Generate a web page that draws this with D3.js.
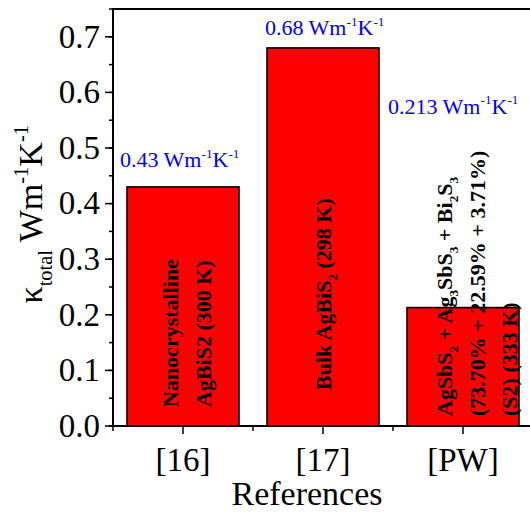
<!DOCTYPE html>
<html>
<head>
<meta charset="utf-8">
<script src="https://cdn.jsdelivr.net/npm/d3@7"></script>
<style>
  html, body { margin: 0; padding: 0; background: #fff; }
  svg { display: block; }
  text, tspan { font-family: "Liberation Serif", "Times New Roman", serif; white-space: pre; }
</style>
</head>
<body>
<div id="chart"></div>
<script>
// ---- data ----
const categories = ['[16]', '[17]', '[PW]'];
const kappaValues = [0.43, 0.68, 0.213];
const valueLabels = ['0.43', '0.68', '0.213'];
const yTicks = [0, 0.1, 0.2, 0.3, 0.4, 0.5, 0.6, 0.7];
const yMinorTicks = d3.range(0, 0.751, 0.05);

// rich-text segments: [text, 'sub' | 'sup' | undefined]
const barDescriptions = [
    [[['Nanocrystalline']], [['AgBiS2 (300 K)']]],
    [[['Bulk AgBiS'], ['2', 'sub'], [' (298 K)']]],
    [
        [['AgSbS'], ['2', 'sub'], [' + Ag'], ['3', 'sub'], ['SbS'], ['3', 'sub'], [' + Bi'], ['2', 'sub'], ['S'], ['3', 'sub']],
        [['(73.70% + 22.59% + 3.71%)']],
        [['(S2) (333 K)']]
    ]
];
const unitSegments = [[' Wm'], ['-1', 'sup'], ['K'], ['-1', 'sup']];

// ---- layout (pixels, not data) ----
const width = 530, height = 512;
const margin = {left: 113, top: 9, right: -3, bottom: 86};
// where each blue value label sits relative to its bar's top-left corner
const valueLabelOffset = [[-7, -20], [-2, -13], [-19, -194]];
// rotated in-bar text: distance of the text start above the baseline, and baselines relative to bar centre
const descStart = [19, 36, 10];
const descBaselines = [[-5, 28], [8], [-11, 22, 54]];

/**
 * Appends tspans for a list of segments, shifting sub/superscripts.
 */
function appendRich(textSel, segments, size) {
    let shift = 0;
    segments.forEach(([str, kind]) => {
        const next = kind === 'sub' ? size * 0.28 : kind === 'sup' ? -size * 0.42 : 0;
        textSel.append('tspan')
            .attr('font-size', kind ? size * 0.6 : size)
            .attr('dy', next - shift)
            .text(str);
        shift = next;
    });
}

const svg = d3.select('#chart').append('svg')
    .attr('width', width)
    .attr('height', height)
    .attr('font-family', '"Liberation Serif", "Times New Roman", serif');

const x = d3.scaleBand()
    .domain(categories)
    .range([margin.left, width - margin.right])
    .paddingInner(0.2)
    .paddingOuter(0.1);

const y = d3.scaleLinear()
    .domain([0, 0.75])
    .range([height - margin.bottom, margin.top]);

const x0 = margin.left, x1 = width - margin.right;
const y0 = y(0), yTop = y(0.75);

// bars
svg.append('g').selectAll('rect')
    .data(kappaValues)
    .join('rect')
    .attr('x', (d, i) => x(categories[i]))
    .attr('y', d => y(d))
    .attr('width', x.bandwidth())
    .attr('height', d => y0 - y(d))
    .attr('fill', '#ff0000')
    .attr('stroke', '#000')
    .attr('stroke-width', 1.6);

// rotated descriptions inside the bars
barDescriptions.forEach((lines, i) => {
    const cx = x(categories[i]) + x.bandwidth() / 2;
    lines.forEach((segs, j) => {
        const t = svg.append('text')
            .attr('transform', `translate(${cx + descBaselines[i][j]},${y0 - descStart[i]}) rotate(-90)`)
            .attr('font-weight', 'bold')
            .attr('fill', '#000');
        appendRich(t, segs, 22);
    });
});

// blue value annotations
kappaValues.forEach((v, i) => {
    const t = svg.append('text')
        .attr('x', x(categories[i]) + valueLabelOffset[i][0])
        .attr('y', y(v) + valueLabelOffset[i][1])
        .attr('fill', '#0000ff');
    appendRich(t, [[valueLabels[i]], ...unitSegments], 22);
});

// frame
const axes = svg.append('g').attr('stroke', '#000').attr('fill', 'none');
axes.append('path')
    .attr('d', `M${x0},${y0}V${yTop}H${x1}V${y0}Z`)
    .attr('stroke-width', 2);

// y ticks
axes.selectAll('line.ymin')
    .data(yMinorTicks)
    .join('line')
    .attr('x1', x0 - 4).attr('x2', x0)
    .attr('y1', d => y(d)).attr('y2', d => y(d))
    .attr('stroke-width', 1.5);
axes.selectAll('line.ymaj')
    .data(yTicks)
    .join('line')
    .attr('x1', x0 - 8).attr('x2', x0)
    .attr('y1', d => y(d)).attr('y2', d => y(d))
    .attr('stroke-width', 1.5);

svg.append('g').selectAll('text')
    .data(yTicks)
    .join('text')
    .attr('x', x0 - 13)
    .attr('y', d => y(d))
    .attr('dy', '0.33em')
    .attr('text-anchor', 'end')
    .attr('font-size', 33)
    .text(d3.format('.1f'));

// x ticks: major at band centres, minor at band edges
const edges = categories.map(c => x(c) - x.step() * x.paddingInner() / 2).concat([x1]);
axes.selectAll('line.xmin')
    .data(edges)
    .join('line')
    .attr('x1', d => d).attr('x2', d => d)
    .attr('y1', y0).attr('y2', y0 + 5)
    .attr('stroke-width', 1.5);
axes.selectAll('line.xmaj')
    .data(categories)
    .join('line')
    .attr('x1', d => x(d) + x.bandwidth() / 2).attr('x2', d => x(d) + x.bandwidth() / 2)
    .attr('y1', y0).attr('y2', y0 + 8)
    .attr('stroke-width', 1.5);

svg.append('g').selectAll('text')
    .data(categories)
    .join('text')
    .attr('x', d => x(d) + x.bandwidth() / 2)
    .attr('y', y0 + 45)
    .attr('text-anchor', 'middle')
    .attr('font-size', 33)
    .text(d => d);

// axis titles
svg.append('text')
    .attr('x', 307)
    .attr('y', 505)
    .attr('text-anchor', 'middle')
    .attr('font-size', 34)
    .text('References');

const yTitle = svg.append('text')
    .attr('transform', `translate(42,${(y0 + yTop) / 2 + 86}) rotate(-90)`);
appendRich(yTitle, [['\u03ba'], ['total', 'sub'], ...unitSegments], 34);
</script>
</body>
</html>
